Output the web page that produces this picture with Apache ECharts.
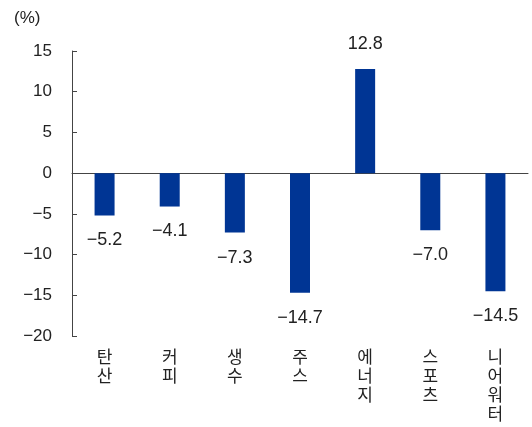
<!DOCTYPE html>
<html><head><meta charset="utf-8">
<script src="https://cdn.jsdelivr.net/npm/echarts@6/dist/echarts.min.js"></script>
<style>html,body{margin:0;padding:0;background:#fff}#c{width:532px;height:427px}</style>
</head><body><div id="c"></div>
<script>
const categories = ['탄산','커피','생수','주스','에너지','스포츠','니어워터'];
const values = [-5.2, -4.1, -7.3, -14.7, 12.8, -7.0, -14.5];
const yTicks = { min: -20, max: 15, interval: 5 };
const unitLabel = '(%)';

const fontFam = '"Liberation Sans", "Noto Sans CJK KR", sans-serif';
const minus = s => String(s).replace('-', '\u2212');
const chart = echarts.init(document.getElementById('c'), null, { renderer: 'canvas' });
chart.setOption({
  animation: false,
  grid: { left: 72, right: 4, top: 51, bottom: 91 },
  graphic: [{ type: 'text', left: 14, top: 10, style: { text: unitLabel, font: '17px ' + fontFam, fill: '#222' } }],
  xAxis: [{
    type: 'category', data: categories,
    axisLine: { onZero: true, lineStyle: { color: '#444', width: 1 } },
    axisTick: { inside: true, length: 5, lineStyle: { color: '#444' } },
    axisLabel: { show: false }
  }, {
    type: 'category', data: categories, position: 'bottom',
    axisLine: { show: false, onZero: false }, axisTick: { show: false },
    axisLabel: {
      margin: 13, color: '#222', fontSize: 17, lineHeight: 19, fontFamily: fontFam,
      formatter: v => v.split('').join('\n')
    }
  }],
  yAxis: {
    type: 'value', min: yTicks.min, max: yTicks.max, interval: yTicks.interval,
    splitLine: { show: false },
    axisLine: { show: true, lineStyle: { color: '#444' } },
    axisTick: { show: true, inside: true, length: 5, lineStyle: { color: '#444' } },
    axisLabel: { margin: 20, color: '#222', fontSize: 17, fontFamily: fontFam, formatter: v => minus(v) }
  },
  series: [{
    type: 'bar', xAxisIndex: 0, barWidth: 20,
    itemStyle: { color: '#003594' },
    data: values.map(v => ({
      value: v,
      label: { show: true, position: v < 0 ? 'bottom' : 'top', distance: 16,
        color: '#222', fontSize: 18, fontFamily: fontFam,
        formatter: p => minus(p.value.toFixed(1)) }
    }))
  }]
});
</script></body></html>
